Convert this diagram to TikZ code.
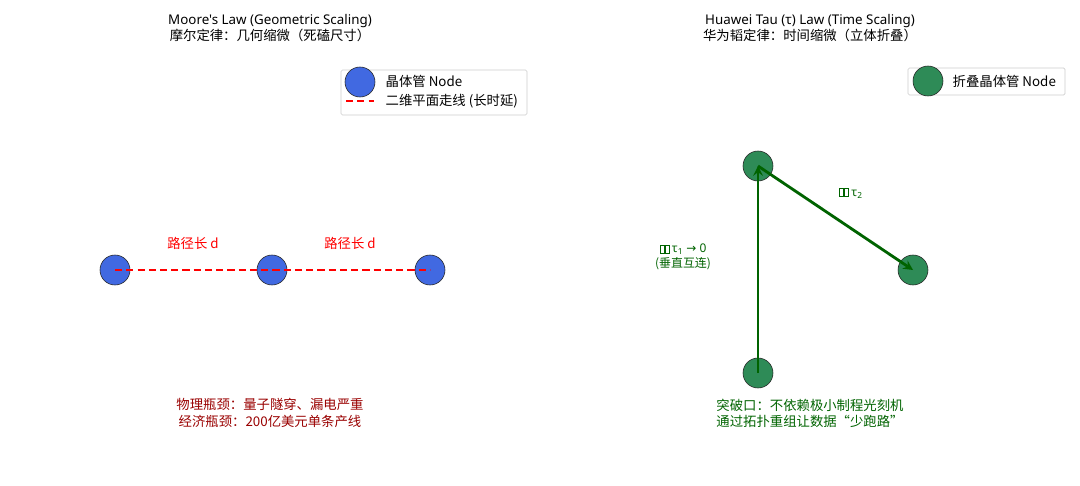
\documentclass[tikz,border=0pt]{standalone}
\usepackage{fontspec}
\setmainfont{Noto Sans CJK SC}
\newfontfamily\latinfont{Noto Sans}
\newfontfamily\symfont{DejaVu Sans}
\tikzset{
  blue node/.style={circle, draw=black!85, fill={rgb,255:red,65;green,105;blue,225}, minimum size=30*0.025cm, inner sep=0pt},
  green node/.style={circle, draw=black!85, fill={rgb,255:red,46;green,139;blue,87}, minimum size=30*0.025cm, inner sep=0pt},
  txt/.style={font=\fontsize{9.5}{11.5}\selectfont, align=center, inner sep=1pt},
  legend/.style={draw=black!20, rounded corners=1pt, fill=white},
}
\definecolor{darkgreen}{rgb}{0,0.39,0}
\newcommand{\tofu}{\tikz[x=1cm, y=1cm, baseline=0pt]{\draw[line width=0.3pt] (0,0) rectangle (0.1,0.2) (0.13,0) rectangle (0.23,0.2);}}
\begin{document}
\begin{tikzpicture}[x=0.025cm, y=-0.025cm]
  \useasboundingbox (0,0) rectangle (1080,486);
  % Left panel
  \node[txt] (ltitle) at (270,28) {{\latinfont Moore's Law (Geometric Scaling)}\\摩尔定律：几何缩微（死磕尺寸）};
  \node[blue node] (t1) at (115,270) {};
  \node[blue node] (t2) at (272,270) {};
  \node[blue node] (t3) at (430,270) {};
  \draw[red, line width=1.2pt, dash pattern=on 5pt off 3pt] (t1.center) -- (t2.center) -- (t3.center);
  \node[txt, red] (d1) at (193,243) {路径长 d};
  \node[txt, red] (d2) at (350,243) {路径长 d};
  \node[txt, red!60!black] (lnote) at (270,413) {物理瓶颈：量子隧穿、漏电严重\\经济瓶颈：200亿美元单条产线};
  % Left legend
  \draw[legend] (341,70) rectangle (527,115);
  \node[blue node] (lg1) at (360,82) {};
  \coordinate (lg2a) at (346,101);
  \coordinate (lg2b) at (374,101);
  \draw[red, line width=1.2pt, dash pattern=on 5pt off 3pt] (lg2a) -- (lg2b);
  \node[txt, anchor=west] (lgt1) at (384,81) {晶体管 Node};
  \node[txt, anchor=west] (lgt2) at (384,101) {二维平面走线 (长时延)};
  % Right panel
  \node[txt] (rtitle) at (810,28) {{\latinfont Huawei Tau (τ) Law (Time Scaling)}\\华为韬定律：时间缩微（立体折叠）};
  \node[green node] (g1) at (758,166) {};
  \node[green node] (g2) at (913,270) {};
  \node[green node] (g3) at (758,373) {};
  \draw[darkgreen, line width=2pt, -stealth] (g3.center) -- (g1.center);
  \draw[darkgreen, line width=2pt, -stealth] (g1.center) -- (g2.center);
  \node[txt, darkgreen, font=\fontsize{8.5}{10.5}\selectfont] (tau2) at (851,193) {\tofu\ {\latinfont τ\textsubscript{2}}};
  \node[txt, darkgreen, font=\fontsize{8.5}{10.5}\selectfont] (tau1) at (683,257) {\tofu\ {\latinfont τ\textsubscript{1} {\symfont →} 0}\\(垂直互连)};
  \node[txt, darkgreen] (rnote) at (810,413) {突破口：不依赖极小制程光刻机\\通过拓扑重组让数据“少跑路”};
  % Right legend
  \draw[legend] (908,68) rectangle (1065,95);
  \node[green node] (lg3) at (928,81) {};
  \node[txt, anchor=west] (lgt3) at (951,81) {折叠晶体管 Node};
\end{tikzpicture}
\end{document}
